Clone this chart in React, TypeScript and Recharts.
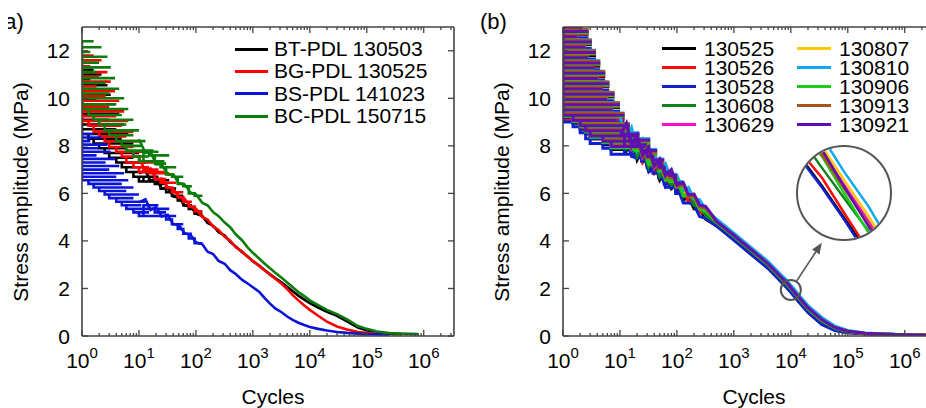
import React from "react"
import { Legend, Line, LineChart, ReferenceDot, ReferenceLine, XAxis, YAxis } from "recharts"

const FONT = "'Liberation Sans', Arial, Helvetica, sans-serif"
const AXIS = "#444"
const X_MAX = 3.4e6

// ---- ticks ----
const cycleDecades = [1, 10, 100, 1000, 10000, 100000, 1000000]
const cycleMinor = cycleDecades
  .flatMap((d) => [2, 3, 4, 5, 6, 7, 8, 9].map((k) => k * d))
  .filter((v) => v < X_MAX)
const cycleTicks = [...cycleDecades, ...cycleMinor].sort((a, b) => a - b)
const stressTicks = [0, 2, 4, 6, 8, 10, 12]

// ---- panel (a) ----
// early cycles: horizontal runs of the noisy signal (cycle from, cycle to, stress)
const stripFromA = [1, 1, 1, 1, 1, 1, 1, 1, 1, 1, 1, 1, 1, 1, 1.3, 1.6, 2, 2.5, 3, 4, 5, 6, 8, 10, 12, 15, 19, 24, 30, 38, 48, 60, 75, 95]
const stripToA = [1.6, 2.2, 1.4, 2.8, 2, 3.2, 1.8, 3.8, 2.6, 4.5, 3, 5.5, 4, 6.5, 5, 8, 6, 10, 8, 13, 11, 18, 15, 28, 22, 34, 30, 45, 40, 60, 55, 85, 80, 130]
const trendCyclesA = [
  10, 13, 16, 20, 25, 32, 40, 50, 63, 80, 100, 130, 160, 200, 250, 320, 400, 500, 650, 800,
  1000, 1300, 1600, 2000, 2500, 3200, 4000, 5000, 6300, 8000, 10000, 14000, 20000, 30000,
  45000, 70000, 100000, 150000, 250000, 400000, 600000, 800000,
]

const btStrips = [11.2, 11.0, 10.8, 10.55, 10.35, 10.15, 9.95, 9.75, 9.55, 9.35, 9.1, 8.9, 8.7, 8.5, 8.3, 8.1, 7.9, 7.7, 7.5, 7.3, 7.1, 6.9, 6.7, 6.5, 6.7, 6.55, 6.4, 6.2, 6.05, 5.9, 5.7, 5.5, 5.35, 5.15]
const bgStrips = [11.8, 11.6, 11.35, 11.1, 10.9, 10.7, 10.5, 10.3, 10.1, 9.9, 9.65, 9.45, 9.25, 9.05, 8.85, 8.6, 8.4, 8.2, 7.95, 7.75, 7.55, 7.3, 7.1, 6.9, 7.0, 6.85, 6.6, 6.45, 6.25, 6.05, 5.85, 5.65, 5.45, 5.25]
const bsStrips = [8.5, 8.35, 8.2, 8.05, 7.9, 7.75, 7.6, 7.45, 7.3, 7.15, 7.0, 6.85, 6.7, 6.55, 6.4, 6.25, 6.1, 5.95, 5.8, 5.65, 5.5, 5.35, 5.2, 5.05, 5.5, 5.35, 5.2, 5.05, 4.9, 4.7, 4.5, 4.3, 4.1, 3.9]
const bcStrips = [12.4, 12.15, 11.95, 11.75, 11.5, 11.3, 11.1, 10.85, 10.65, 10.4, 10.2, 10.0, 9.75, 9.55, 9.3, 9.1, 8.9, 8.65, 8.45, 8.2, 8.0, 7.8, 7.55, 7.35, 7.75, 7.6, 7.25, 7.1, 6.8, 6.7, 6.4, 6.3, 6.0, 5.9]

const btTrend = [
  6.85, 6.95, 6.53, 6.62, 6.2, 6.25, 5.87, 5.83, 5.49, 5.46, 5.15, 5.05, 4.76, 4.64, 4.37, 4.23, 3.96, 3.77, 3.52, 3.36,
  3.15, 2.95, 2.78, 2.6, 2.43, 2.25, 2.07, 1.88, 1.7, 1.53, 1.38, 1.2, 1.02, 0.85, 0.62, 0.36, 0.24, 0.15, 0.1, 0.08,
  null, null,
]
const bgTrend = [
  7.48, 6.95, 7.05, 6.58, 6.62, 6.25, 6.2, 5.82, 5.78, 5.44, 5.36, 5.0, 4.9, 4.61, 4.46, 4.17, 4.01, 3.73, 3.55, 3.34,
  3.15, 2.95, 2.77, 2.58, 2.4, 2.2, 1.98, 1.72, 1.5, 1.28, 1.1, 0.85, 0.6, 0.4, 0.27, 0.17, 0.13, 0.1, 0.07,
  null, null, null,
]
const bsTrend = [
  5.62, 5.75, 5.3, 5.42, 5.03, 5.1, 4.7, 4.68, 4.32, 4.26, 3.94, 3.86, 3.55, 3.45, 3.16, 3.04, 2.77, 2.61, 2.36, 2.22,
  2.05, 1.85, 1.6, 1.36, 1.15, 1.0, 0.82, 0.68, 0.56, 0.46, 0.38, 0.3, 0.23, 0.17, 0.13, 0.1, 0.08, 0.07, 0.06,
  null, null, null,
]
const bcTrend = [
  8.28, 7.7, 7.75, 7.23, 7.22, 6.8, 6.8, 6.42, 6.38, 6.04, 5.96, 5.6, 5.5, 5.21, 5.04, 4.77, 4.58, 4.28, 4.02, 3.74,
  3.5, 3.25, 3.05, 2.85, 2.65, 2.45, 2.25, 2.05, 1.85, 1.68, 1.5, 1.3, 1.1, 0.92, 0.7, 0.42, 0.3, 0.19, 0.12, 0.1,
  0.09, 0.08,
]

// ---- panel (b) ----
const stripFromB = [1, 1, 1, 1, 1, 1, 1, 1, 1, 1, 1, 1, 1, 1, 1, 1, 1, 1, 1.5, 2, 2.5, 3, 5, 7, 12, 15, 19, 24, 30, 38, 48, 60, 75, 95]
const stripToB = [2.2, 2.8, 1.8, 3.2, 2.5, 3.8, 2.8, 4.5, 3.5, 5.5, 4.2, 6.5, 5, 8, 6, 10, 7.5, 12, 9, 15, 12, 20, 16, 28, 22, 34, 30, 45, 40, 60, 55, 85, 80, 130]
const trendCyclesB = [
  10, 13, 16, 20, 25, 32, 40, 50, 63, 80, 100, 130, 160, 200, 250, 320, 500, 1000, 2000, 4000,
  7000, 8500, 10000, 12000, 14000, 20000, 35000, 60000, 100000, 200000, 500000, 1000000, 2500000,
]

const s130525Strips = [12.9, 12.7, 12.45, 12.25, 12.0, 11.8, 11.6, 11.35, 11.15, 10.9, 10.7, 10.5, 10.25, 10.05, 9.8, 9.6, 9.4, 9.15, 8.95, 8.7, 8.5, 8.3, 8.05, 7.85, 8.15, 7.95, 7.65, 7.4, 7.2, 7.05, 6.75, 6.5, 6.35, 6.1]
const s130526Strips = [12.95, 12.72, 12.5, 12.3, 12.05, 11.85, 11.62, 11.4, 11.2, 10.95, 10.75, 10.52, 10.3, 10.1, 9.85, 9.65, 9.4, 9.1, 9.0, 8.75, 8.55, 8.3, 8.1, 7.9, 8.2, 7.9, 7.75, 7.5, 7.2, 7.1, 6.8, 6.6, 6.45, 6.15]
const s130528Strips = [12.8, 12.55, 12.3, 12.1, 11.85, 11.65, 11.45, 11.2, 11.0, 10.75, 10.55, 10.35, 10.1, 9.9, 9.65, 9.45, 9.2, 9.0, 8.8, 8.55, 8.3, 8.1, 7.9, 7.65, 8.05, 7.8, 7.5, 7.35, 7.1, 6.85, 6.65, 6.4, 6.25, 6.0]
const s130608Strips = [13.0, 12.8, 12.55, 12.35, 12.1, 11.92, 11.7, 11.45, 11.25, 11.0, 10.82, 10.6, 10.35, 10.15, 9.9, 9.72, 9.5, 9.25, 9.05, 8.8, 8.62, 8.4, 8.15, 7.95, 8.3, 8.05, 7.85, 7.6, 7.3, 7.15, 6.95, 6.7, 6.45, 6.25]
const s130629Strips = [13.0, 12.85, 12.6, 12.4, 12.18, 11.95, 11.75, 11.5, 11.3, 11.08, 10.85, 10.65, 10.42, 10.2, 9.98, 9.75, 9.55, 9.3, 9.1, 8.88, 8.65, 8.45, 8.22, 8.0, 8.4, 8.1, 7.9, 7.75, 7.45, 7.2, 7.0, 6.85, 6.6, 6.3]
const s130807Strips = [13.0, 12.88, 12.65, 12.42, 12.2, 12.0, 11.76, 11.55, 11.32, 11.1, 10.88, 10.66, 10.45, 10.22, 10.0, 9.78, 9.56, 9.35, 9.12, 8.9, 8.68, 8.46, 8.25, 8.02, 8.5, 8.3, 8.0, 7.8, 7.6, 7.35, 7.1, 6.95, 6.7, 6.5]
const s130810Strips = [13.0, 12.9, 12.68, 12.46, 12.25, 12.02, 11.8, 11.58, 11.36, 11.14, 10.92, 10.7, 10.48, 10.26, 10.04, 9.82, 9.6, 9.38, 9.16, 8.94, 8.72, 8.5, 8.28, 8.06, 8.55, 8.3, 8.1, 7.85, 7.6, 7.45, 7.15, 6.95, 6.8, 6.5]
const s130906Strips = [12.98, 12.76, 12.52, 12.32, 12.08, 11.88, 11.65, 11.44, 11.2, 11.0, 10.78, 10.55, 10.34, 10.12, 9.9, 9.68, 9.45, 9.24, 9.02, 8.8, 8.58, 8.36, 8.14, 7.92, 8.35, 8.1, 7.8, 7.65, 7.4, 7.25, 6.95, 6.75, 6.5, 6.3]
const s130913Strips = [13.0, 12.88, 12.66, 12.44, 12.22, 12.0, 11.78, 11.56, 11.34, 11.12, 10.9, 10.68, 10.46, 10.24, 10.02, 9.8, 9.58, 9.36, 9.14, 8.92, 8.7, 8.48, 8.26, 8.04, 8.45, 8.2, 7.95, 7.7, 7.5, 7.3, 7.05, 6.8, 6.65, 6.4]
const s130921Strips = [13.0, 12.81, 12.59, 12.37, 12.15, 11.93, 11.71, 11.49, 11.27, 11.05, 10.83, 10.61, 10.39, 10.17, 9.95, 9.73, 9.51, 9.29, 9.07, 8.85, 8.63, 8.41, 8.19, 7.97, 8.5, 8.25, 8.05, 7.8, 7.55, 7.4, 7.1, 6.9, 6.75, 6.45]

const s130525Trend = [8.85, 7.8, 8.35, 7.4, 7.85, 6.95, 7.35, 6.55, 6.85, 6.2, 6.35, 5.72, 5.85, 5.35, 5.33, 4.92, 4.63, 4.05, 3.45, 2.85, 2.25, 2.04, 1.85, 1.64, 1.43, 1.0, 0.5, 0.24, 0.15, 0.09, 0.07, 0.05, 0.03]
const s130526Trend = [8.1, 8.65, 7.7, 8.15, 7.3, 7.65, 6.85, 7.15, 6.45, 6.7, 6.05, 6.15, 5.63, 5.67, 5.2, 5.15, 4.66, 4.08, 3.48, 2.88, 2.28, 2.09, 1.88, 1.65, 1.46, 1.03, 0.53, 0.26, 0.15, 0.09, 0.07, 0.05, 0.03]
const s130528Trend = [8.4, 8.4, 7.55, 7.5, 7.8, 6.9, 7.0, 7.0, 6.25, 6.3, 6.3, 5.6, 5.6, 5.52, 5.03, 4.95, 4.62, 4.04, 3.44, 2.84, 2.24, 2.03, 1.84, 1.61, 1.42, 0.99, 0.49, 0.23, 0.14, 0.09, 0.07, 0.05, 0.03]
const s130608Trend = [9.0, 7.95, 8.5, 7.55, 8.0, 7.1, 7.5, 6.7, 7.0, 6.35, 6.5, 5.87, 6.0, 5.5, 5.48, 5.07, 4.75, 4.17, 3.57, 2.97, 2.37, 2.15, 1.97, 1.77, 1.55, 1.12, 0.62, 0.31, 0.18, 0.11, 0.07, 0.05, 0.03]
const s130629Trend = [8.3, 8.85, 7.9, 8.35, 7.5, 7.85, 7.05, 7.35, 6.65, 6.9, 6.25, 6.35, 5.83, 5.87, 5.4, 5.35, 4.83, 4.25, 3.65, 3.05, 2.45, 2.25, 2.05, 1.83, 1.63, 1.2, 0.7, 0.36, 0.2, 0.12, 0.07, 0.05, 0.03]
const s130807Trend = [8.85, 8.85, 8.0, 7.95, 8.25, 7.35, 7.45, 7.45, 6.7, 6.75, 6.75, 6.05, 6.05, 5.97, 5.48, 5.4, 4.86, 4.28, 3.68, 3.08, 2.48, 2.28, 2.08, 1.86, 1.66, 1.23, 0.73, 0.38, 0.21, 0.12, 0.07, 0.05, 0.03]
const s130810Trend = [9.25, 8.2, 8.75, 7.8, 8.25, 7.35, 7.75, 6.95, 7.25, 6.6, 6.75, 6.12, 6.25, 5.75, 5.73, 5.32, 4.91, 4.33, 3.73, 3.13, 2.53, 2.34, 2.13, 1.92, 1.71, 1.28, 0.78, 0.41, 0.23, 0.13, 0.08, 0.05, 0.03]
const s130906Trend = [8.7, 8.7, 7.85, 7.8, 8.1, 7.2, 7.3, 7.3, 6.55, 6.6, 6.6, 5.9, 5.9, 5.82, 5.33, 5.25, 4.78, 4.2, 3.6, 3.0, 2.4, 2.22, 2.0, 1.76, 1.58, 1.15, 0.65, 0.33, 0.19, 0.11, 0.07, 0.05, 0.03]
const s130913Trend = [8.33, 8.88, 7.93, 8.38, 7.53, 7.88, 7.08, 7.38, 6.68, 6.93, 6.28, 6.38, 5.86, 5.9, 5.43, 5.38, 4.81, 4.23, 3.63, 3.03, 2.43, 2.23, 2.03, 1.81, 1.61, 1.18, 0.68, 0.35, 0.2, 0.11, 0.07, 0.05, 0.03]
const s130921Trend = [8.4, 8.95, 8.0, 8.45, 7.6, 7.95, 7.15, 7.45, 6.75, 7.0, 6.35, 6.45, 5.93, 5.97, 5.5, 5.45, 4.82, 4.24, 3.64, 3.04, 2.44, 2.26, 2.04, 1.8, 1.62, 1.19, 0.69, 0.35, 0.2, 0.12, 0.07, 0.05, 0.03]

type Series = { name: string; color: string; strips: number[]; trend: (number | null)[] }

const seriesA: Series[] = [
  { name: "BT-PDL 130503", color: "#000000", strips: btStrips, trend: btTrend },
  { name: "BG-PDL 130525", color: "#ff0000", strips: bgStrips, trend: bgTrend },
  { name: "BS-PDL 141023", color: "#0a14d8", strips: bsStrips, trend: bsTrend },
  { name: "BC-PDL 150715", color: "#0a7d0a", strips: bcStrips, trend: bcTrend },
]

const seriesB: Series[] = [
  { name: "130525", color: "#000000", strips: s130525Strips, trend: s130525Trend },
  { name: "130526", color: "#ff0a0a", strips: s130526Strips, trend: s130526Trend },
  { name: "130528", color: "#1020d0", strips: s130528Strips, trend: s130528Trend },
  { name: "130608", color: "#12821a", strips: s130608Strips, trend: s130608Trend },
  { name: "130629", color: "#ff10c8", strips: s130629Strips, trend: s130629Trend },
  { name: "130807", color: "#ffc800", strips: s130807Strips, trend: s130807Trend },
  { name: "130810", color: "#10a8f0", strips: s130810Strips, trend: s130810Trend },
  { name: "130906", color: "#1ccc1c", strips: s130906Strips, trend: s130906Trend },
  { name: "130913", color: "#a85418", strips: s130913Strips, trend: s130913Trend },
  { name: "130921", color: "#6010b0", strips: s130921Strips, trend: s130921Trend },
]

const stripRows = (from: number[], to: number[], vals: number[]) =>
  vals.flatMap((v, i) => [
    { c: from[i], s: v },
    { c: to[i], s: v },
  ])

const trendRows = (cycles: number[], vals: (number | null)[]) =>
  cycles.map((c, i) => ({ c, s: vals[i] }))

// ---- axis ticks (pointing inward) ----
const BottomTick = (p: any) => {
  const { x, y, payload } = p
  const major = cycleDecades.includes(payload.value)
  return (
    <g>
      <line x1={x} x2={x} y1={y} y2={y - (major ? 6 : 3)} stroke={AXIS} strokeWidth={1.3} />
      {major && (
        <text x={x} y={y + 32} textAnchor="middle" fontFamily={FONT} fontSize={21} fill="#000">
          10
          <tspan fontSize={15} dy={-10}>
            {Math.round(Math.log10(payload.value))}
          </tspan>
        </text>
      )}
    </g>
  )
}

const TopTick = (p: any) => {
  const { x, y, payload } = p
  const major = cycleDecades.includes(payload.value)
  return <line x1={x} x2={x} y1={y} y2={y + (major ? 6 : 3)} stroke={AXIS} strokeWidth={1.3} />
}

const LeftTick = (p: any) => {
  const { x, y, payload } = p
  return (
    <g>
      <line x1={x} x2={x + 6} y1={y} y2={y} stroke={AXIS} strokeWidth={1.3} />
      <text x={x - 12} y={y + 7.5} textAnchor="end" fontFamily={FONT} fontSize={21} fill="#000">
        {payload.value}
      </text>
    </g>
  )
}

const RightTick = (p: any) => {
  const { x, y } = p
  return <line x1={x} x2={x - 6} y1={y} y2={y} stroke={AXIS} strokeWidth={1.3} />
}

const Arrow = (p: any) => {
  const { x1, y1, x2, y2 } = p
  const a = Math.atan2(y2 - y1, x2 - x1)
  const bx = x2 - 11 * Math.cos(a)
  const by = y2 - 11 * Math.sin(a)
  const px = -Math.sin(a) * 4.5
  const py = Math.cos(a) * 4.5
  return (
    <g>
      <line x1={x1} y1={y1} x2={bx} y2={by} stroke="#555" strokeWidth={1.6} />
      <polygon points={`${x2},${y2} ${bx + px},${by + py} ${bx - px},${by - py}`} fill="#555" />
    </g>
  )
}

type LegendCfg = { left: number; top: number; rows: number; rowH: number; colW: number; swatch: number; gap: number }

const legendContent = (items: Series[], cfg: LegendCfg) => () => (
  <div
    style={{
      display: "grid",
      gridTemplateRows: `repeat(${cfg.rows}, ${cfg.rowH}px)`,
      gridAutoFlow: "column",
      gridAutoColumns: `${cfg.colW}px`,
      fontFamily: FONT,
      fontSize: 21,
      color: "#000",
    }}
  >
    {items.map((s) => (
      <div key={s.name} style={{ display: "flex", alignItems: "center", whiteSpace: "nowrap", lineHeight: `${cfg.rowH}px` }}>
        <span style={{ display: "inline-block", width: cfg.swatch, height: 3, background: s.color, marginRight: cfg.gap }} />
        <span>{s.name}</span>
      </div>
    ))}
  </div>
)

type PanelProps = {
  left: number
  label: string
  labelX: number
  series: Series[]
  stripFrom: number[]
  stripTo: number[]
  trendCycles: number[]
  legend: LegendCfg
  lineWidth: number
  zoom?: boolean
}

function Panel({ left, label, labelX, series, stripFrom, stripTo, trendCycles, legend, lineWidth, zoom }: PanelProps) {
  const clipId = `panel-label-${left}`
  return (
    <div style={{ position: "absolute", left, top: 0, width: 470, height: 408 }}>
      <LineChart width={470} height={408} margin={{ top: 26, right: 15, bottom: 71, left: 81 }}>
        <XAxis
          dataKey="c"
          type="number"
          scale="log"
          domain={[1, X_MAX]}
          allowDataOverflow
          ticks={cycleTicks}
          interval={0}
          tick={BottomTick}
          tickSize={0}
          tickMargin={0}
          tickLine={false}
          axisLine={{ stroke: AXIS, strokeWidth: 1.6 }}
          height={1}
        />
        <XAxis
          xAxisId="top"
          orientation="top"
          dataKey="c"
          type="number"
          scale="log"
          domain={[1, X_MAX]}
          allowDataOverflow
          ticks={cycleTicks}
          interval={0}
          tick={TopTick}
          tickSize={0}
          tickMargin={0}
          tickLine={false}
          axisLine={{ stroke: AXIS, strokeWidth: 1.6 }}
          height={1}
        />
        <YAxis
          type="number"
          domain={[0, 13]}
          allowDataOverflow
          ticks={stressTicks}
          interval={0}
          tick={LeftTick}
          tickSize={0}
          tickMargin={0}
          tickLine={false}
          axisLine={{ stroke: AXIS, strokeWidth: 1.6 }}
          width={1}
        />
        <YAxis
          yAxisId="right"
          orientation="right"
          type="number"
          domain={[0, 13]}
          allowDataOverflow
          ticks={stressTicks}
          interval={0}
          tick={RightTick}
          tickSize={0}
          tickMargin={0}
          tickLine={false}
          axisLine={{ stroke: AXIS, strokeWidth: 1.6 }}
          width={1}
        />
        <Legend
          layout="vertical"
          align="center"
          verticalAlign="middle"
          wrapperStyle={{ left: legend.left, top: legend.top, width: legend.colW * Math.ceil(series.length / legend.rows) + 20 }}
          content={legendContent(series, legend)}
        />
        {series.flatMap((s) => [
          <Line
            key={s.name + "-strips"}
            data={stripRows(stripFrom, stripTo, s.strips)}
            dataKey="s"
            type="stepAfter"
            stroke={s.color}
            strokeWidth={lineWidth}
            dot={false}
            activeDot={false}
            legendType="none"
            isAnimationActive={false}
          />,
          <Line
            key={s.name + "-trend"}
            data={trendRows(trendCycles, s.trend)}
            dataKey="s"
            name={s.name}
            type="linear"
            stroke={s.color}
            strokeWidth={lineWidth}
            dot={false}
            activeDot={false}
            isAnimationActive={false}
          />,
        ])}
        {zoom && <ReferenceDot x={10000} y={1.94} r={10} fill="none" stroke="#555" strokeWidth={2} />}
        {zoom && (
          <ReferenceLine
            segment={[
              { x: 12700, y: 2.32 },
              { x: 35000, y: 3.92 },
            ]}
            shape={Arrow}
          />
        )}
      </LineChart>
      <svg width={470} height={408} style={{ position: "absolute", left: 0, top: 0, pointerEvents: "none" }}>
        <defs>
          <clipPath id={clipId}>
            <rect x={left === 0 ? 8 : 0} y={0} width={60} height={50} />
          </clipPath>
        </defs>
        <text x={labelX} y={29} fontFamily={FONT} fontSize={22} fill="#000" clipPath={`url(#${clipId})`}>
          {label}
        </text>
        <text x={273} y={404} textAnchor="middle" fontFamily={FONT} fontSize={21} fill="#000">
          Cycles
        </text>
        <text transform="translate(28,192) rotate(-90)" textAnchor="middle" fontFamily={FONT} fontSize={21} fill="#000">
          Stress amplitude (MPa)
        </text>
      </svg>
      {zoom && <Inset series={series} cycles={trendCycles} />}
    </div>
  )
}

function Inset({ series, cycles }: { series: Series[]; cycles: number[] }) {
  return (
    <div
      style={{
        position: "absolute",
        left: 315,
        top: 145,
        width: 96,
        height: 96,
        borderRadius: "50%",
        border: "2px solid #555",
        boxSizing: "border-box",
        overflow: "hidden",
        background: "#fff",
      }}
    >
      <LineChart width={92} height={92} margin={{ top: 0, right: 0, bottom: 0, left: 0 }}>
        <XAxis dataKey="c" type="number" scale="log" domain={[7080, 14125]} allowDataOverflow hide />
        <YAxis type="number" domain={[1.72, 2.28]} allowDataOverflow hide />
        {series.map((s) => (
          <Line
            key={s.name}
            data={trendRows(cycles, s.trend)}
            dataKey="s"
            type="linear"
            stroke={s.color}
            strokeWidth={2.5}
            dot={false}
            activeDot={false}
            isAnimationActive={false}
          />
        ))}
      </LineChart>
    </div>
  )
}

export default function App() {
  return (
    <div style={{ position: "absolute", left: 0, top: 0, width: 926, height: 408, overflow: "hidden", background: "#fff" }}>
      <Panel
        left={0}
        label="(a)"
        labelX={-3}
        series={seriesA}
        stripFrom={stripFromA}
        stripTo={stripToA}
        trendCycles={trendCyclesA}
        legend={{ left: 235, top: 38, rows: 4, rowH: 22.3, colW: 220, swatch: 33, gap: 6 }}
        lineWidth={2.6}
      />
      <Panel
        left={481}
        label="(b)"
        labelX={-1}
        series={seriesB}
        stripFrom={stripFromB}
        stripTo={stripToB}
        trendCycles={trendCyclesB}
        legend={{ left: 181, top: 38.5, rows: 5, rowH: 19.1, colW: 135, swatch: 34, gap: 8 }}
        lineWidth={3}
        zoom
      />
    </div>
  )
}
